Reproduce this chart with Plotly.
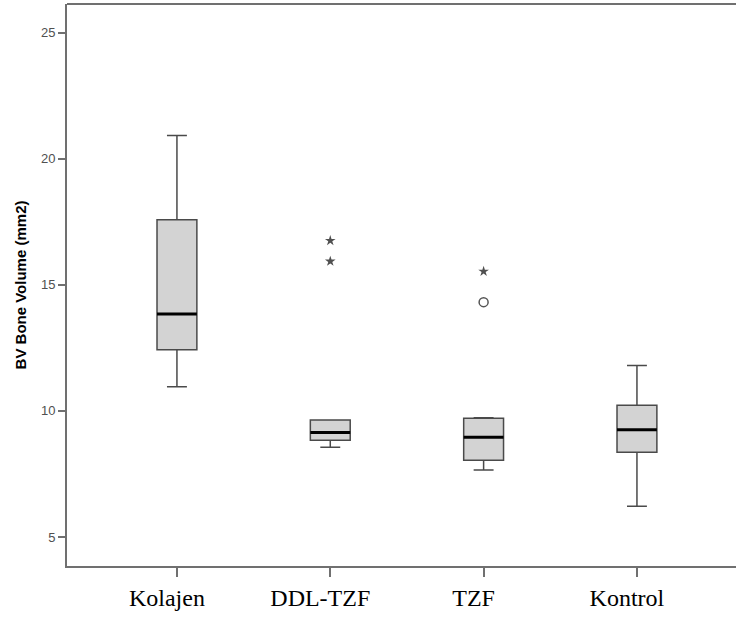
import plotly.graph_objects as go

categories = ["Kolajen", "DDL-TZF", "TZF", "Kontrol"]
lower_whisker = [10.96, 8.56, 7.66, 6.22]
q1_values = [12.42, 8.84, 8.04, 8.36]
median_values = [13.84, 9.14, 8.95, 9.25]
q3_values = [17.58, 9.64, 9.71, 10.22]
upper_whisker = [20.92, 9.64, 9.73, 11.80]

extreme_cat = ["DDL-TZF", "DDL-TZF", "TZF"]
extreme_val = [16.75, 15.93, 15.53]
outlier_cat = ["TZF"]
outlier_val = [14.31]

y_ticks = [5, 10, 15, 20, 25]

BOX_W = 0.26
pos = list(range(len(categories)))
edge = "#4a4a4a"
frame = "#707070"

fig = go.Figure()
fig.add_trace(go.Box(
    x=pos, q1=q1_values, median=median_values, q3=q3_values,
    lowerfence=lower_whisker, upperfence=upper_whisker,
    width=BOX_W, whiskerwidth=0.5, boxpoints=False,
    fillcolor="#d3d3d3", line=dict(color=edge, width=1.5),
    showlegend=False, hoverinfo="skip",
))

mx, my = [], []
for i, m in zip(pos, median_values):
    mx += [i - BOX_W / 2, i + BOX_W / 2, None]
    my += [m, m, None]
fig.add_trace(go.Scatter(x=mx, y=my, mode="lines",
                         line=dict(color="black", width=3),
                         showlegend=False, hoverinfo="skip"))

fig.add_trace(go.Scatter(
    x=[categories.index(c) for c in extreme_cat], y=extreme_val,
    mode="markers", marker=dict(symbol="star", size=8, color="#505050"),
    showlegend=False))
fig.add_trace(go.Scatter(
    x=[categories.index(c) for c in outlier_cat], y=outlier_val,
    mode="markers", marker=dict(symbol="circle-open", size=9,
                                color="#555555", line=dict(width=1.5)),
    showlegend=False))

fig.add_shape(type="line", xref="paper", yref="paper", x0=0, x1=1, y0=1, y1=1,
              line=dict(color=frame, width=2))

fig.update_layout(
    width=736, height=619,
    margin=dict(l=67, r=0, t=4, b=53),
    paper_bgcolor="white", plot_bgcolor="white",
    xaxis=dict(
        range=[-0.717, 3.646], tickmode="array", tickvals=pos, ticktext=categories,
        showgrid=False, zeroline=False, showline=True, linecolor=frame, linewidth=2,
        ticks="outside", ticklen=9, tickcolor=frame, tickwidth=1.5,
        ticklabelshift=-10,
        tickfont=dict(family="Liberation Serif", size=24, color="black"),
    ),
    yaxis=dict(
        range=[3.85, 26.13], tickmode="array", tickvals=y_ticks,
        showgrid=False, zeroline=False, showline=True, linecolor=frame, linewidth=2,
        ticks="outside", ticklen=7, tickcolor=frame, tickwidth=1.5,
        tickfont=dict(family="Liberation Sans", size=13, color="#505050"),
        title=dict(text="BV Bone Volume (mm2)", standoff=11,
                   font=dict(family="Liberation Sans", size=15, color="black")),
    ),
)
fig.update_yaxes(title_font_weight="bold")

fig.write_html("out.html", config={"displayModeBar": False},
               post_script="document.body.style.margin='0';document.body.style.overflow='hidden';")
